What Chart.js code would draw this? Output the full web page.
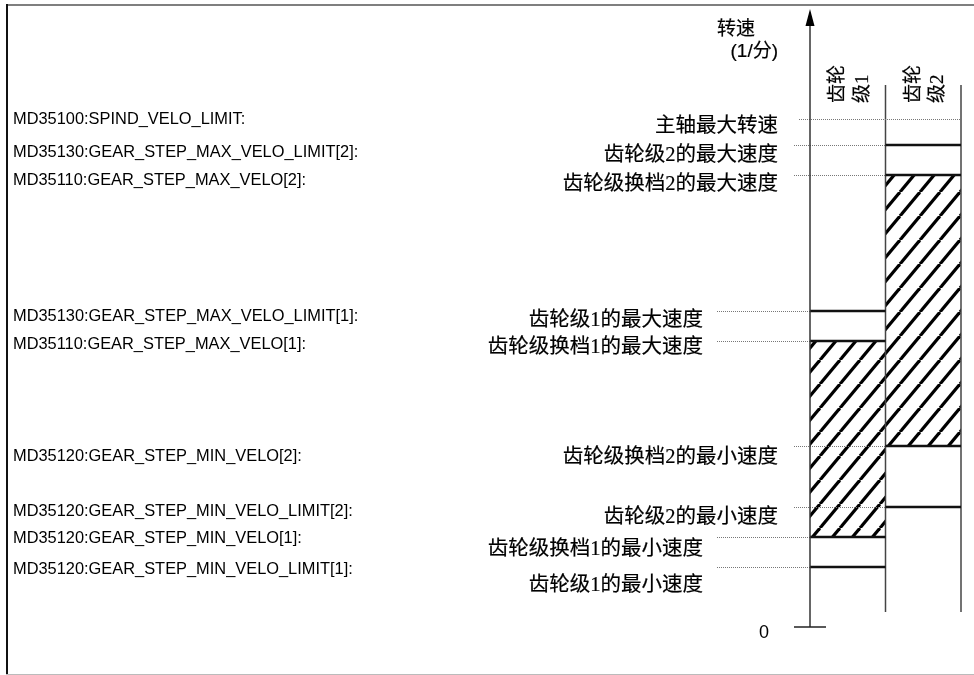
<!DOCTYPE html>
<html>
<head>
<meta charset="utf-8">
<script src="https://cdn.jsdelivr.net/npm/chart.js@4.4.1/dist/chart.umd.min.js"></script>
<style>
html,body{margin:0;padding:0;background:#fff;}
#wrap{width:974px;height:675px;position:relative;}
</style>
</head>
<body>
<div id="wrap"><canvas id="c" width="974" height="675"></canvas></div>
<script>
// ---- data (speed values, 1/min) ----
const gearNames = ['齿轮级1', '齿轮级2'];
const gearShiftMin = [900, 1810];      // MD35120 GEAR_STEP_MIN_VELO[n]
const gearShiftMax = [2860, 4520];     // MD35110 GEAR_STEP_MAX_VELO[n]
const gearLimitMin = [600, 1200];      // MD35120 GEAR_STEP_MIN_VELO_LIMIT[n]
const gearLimitMax = [3160, 4820];     // MD35130 GEAR_STEP_MAX_VELO_LIMIT[n]
const spindleMax = 5080;               // MD35100 SPIND_VELO_LIMIT
const axisMax = 6180;

const paramNames = [
  'MD35100:SPIND_VELO_LIMIT:',
  'MD35130:GEAR_STEP_MAX_VELO_LIMIT[2]:',
  'MD35110:GEAR_STEP_MAX_VELO[2]:',
  'MD35130:GEAR_STEP_MAX_VELO_LIMIT[1]:',
  'MD35110:GEAR_STEP_MAX_VELO[1]:',
  'MD35120:GEAR_STEP_MIN_VELO[2]:',
  'MD35120:GEAR_STEP_MIN_VELO_LIMIT[2]:',
  'MD35120:GEAR_STEP_MIN_VELO[1]:',
  'MD35120:GEAR_STEP_MIN_VELO_LIMIT[1]:'
];
const levelNames = [
  '主轴最大转速',
  '齿轮级2的最大速度',
  '齿轮级换档2的最大速度',
  '齿轮级1的最大速度',
  '齿轮级换档1的最大速度',
  '齿轮级换档2的最小速度',
  '齿轮级2的最小速度',
  '齿轮级换档1的最小速度',
  '齿轮级1的最小速度'
];
const levelValues = [spindleMax, gearLimitMax[1], gearShiftMax[1], gearLimitMax[0], gearShiftMax[0],
                     gearShiftMin[1], gearLimitMin[1], gearShiftMin[0], gearLimitMin[0]];
const levelGear = [0, 2, 2, 1, 1, 2, 2, 1, 1]; // 0 = spindle (both gears)

// ---- layout (pixel offsets of the texts relative to their level line) ----
const nameShift = [8, 11, 10, 10, 7, 12, 11, 13, 19];
const paramShift = [0.5, 7.5, 5.5, 5.5, 3.5, 10.5, 4.5, 1.5, 2.5];

function hatchPattern() {
  const W = 20, H = 24;
  const t = document.createElement('canvas');
  t.width = W; t.height = H;
  const g = t.getContext('2d');
  g.fillStyle = '#fff'; g.fillRect(0, 0, W, H);
  g.strokeStyle = '#000'; g.lineWidth = 3.2;
  for (let k = -1; k <= 1; k++) {
    g.beginPath(); g.moveTo(k * W, H); g.lineTo((k + 1) * W, 0); g.stroke();
  }
  return document.getElementById('c').getContext('2d').createPattern(t, 'repeat');
}

const CJK = '"Liberation Serif", "Noto Sans CJK SC", sans-serif';
const SANS = '"Liberation Sans", Arial, sans-serif';
const SANSCJK = '"Liberation Sans", "Noto Sans CJK SC", sans-serif';

function boldText(ctx, t, x, y) {
  ctx.fillText(t, x, y);
  ctx.lineWidth = 0.2;
  ctx.strokeText(t, x, y);
}

const decor = {
  id: 'decor',
  afterDatasetsDraw(chart) {
    const ctx = chart.ctx;
    const y = chart.scales.y, x = chart.scales.x;
    const half = (x.getPixelForValue(1) - x.getPixelForValue(0)) / 2;
    const colL = i => x.getPixelForValue(i) - half;
    const colR = i => x.getPixelForValue(i) + half;
    const axisX = colL(0);
    const zeroY = y.getPixelForValue(0);
    ctx.save();
    // frame
    ctx.strokeStyle = '#555'; ctx.lineWidth = 1.5;
    ctx.beginPath(); ctx.moveTo(6, 5); ctx.lineTo(974, 5); ctx.stroke();
    ctx.strokeStyle = '#111'; ctx.lineWidth = 2;
    ctx.beginPath(); ctx.moveTo(7, 4); ctx.lineTo(7, 675); ctx.stroke();
    ctx.strokeStyle = '#bbb'; ctx.lineWidth = 1;
    ctx.beginPath(); ctx.moveTo(6, 674.5); ctx.lineTo(974, 674.5); ctx.stroke();

    // column separators
    ctx.strokeStyle = '#444'; ctx.lineWidth = 1.5;
    const colTop = 85, colBot = 612;
    [colR(0), colR(1)].forEach(px => {
      ctx.beginPath(); ctx.moveTo(px, colTop); ctx.lineTo(px, colBot); ctx.stroke();
    });

    // dotted leader lines
    ctx.strokeStyle = '#777'; ctx.lineWidth = 1; ctx.setLineDash([1, 1]);
    levelValues.forEach((v, i) => {
      const py = Math.round(y.getPixelForValue(v)) + 0.5;
      let x0, x1;
      if (levelGear[i] === 0) { x0 = 799; x1 = colR(1); }
      else if (levelGear[i] === 2) { x0 = 794; x1 = colL(1); }
      else { x0 = 717; x1 = colL(0); }
      ctx.beginPath(); ctx.moveTo(x0, py); ctx.lineTo(x1, py); ctx.stroke();
    });
    ctx.setLineDash([]);

    // solid level lines in the gear columns
    ctx.strokeStyle = '#111'; ctx.lineWidth = 2.5;
    gearNames.forEach((g, i) => {
      [gearLimitMin[i], gearShiftMin[i], gearShiftMax[i], gearLimitMax[i]].forEach(v => {
        const py = y.getPixelForValue(v);
        ctx.beginPath(); ctx.moveTo(colL(i), py); ctx.lineTo(colR(i), py); ctx.stroke();
      });
    });

    // axis with arrow
    ctx.strokeStyle = '#333'; ctx.lineWidth = 1.5;
    const topY = y.getPixelForValue(axisMax);
    ctx.beginPath(); ctx.moveTo(axisX, topY + 10); ctx.lineTo(axisX, zeroY); ctx.stroke();
    ctx.fillStyle = '#000';
    ctx.beginPath(); ctx.moveTo(axisX, topY); ctx.lineTo(axisX - 4.5, topY + 17); ctx.lineTo(axisX + 4.5, topY + 17); ctx.closePath(); ctx.fill();
    ctx.strokeStyle = '#222'; ctx.lineWidth = 1.5;
    ctx.beginPath(); ctx.moveTo(axisX - 16, zeroY); ctx.lineTo(axisX + 16, zeroY); ctx.stroke();

    // texts
    ctx.fillStyle = '#000';
    ctx.strokeStyle = '#000';
    ctx.textBaseline = 'middle';
    ctx.font = '18px ' + SANS;
    ctx.textAlign = 'center';
    ctx.fillText('0', 764, zeroY + 6);

    ctx.textAlign = 'left';
    ctx.font = '16.4px ' + SANS;
    paramNames.forEach((t, i) => {
      ctx.fillText(t, 13, y.getPixelForValue(levelValues[i]) + paramShift[i]);
    });

    ctx.textAlign = 'right';
    ctx.font = '20.5px ' + CJK;
    levelNames.forEach((t, i) => {
      const rx = levelGear[i] === 1 ? 703 : 778;
      boldText(ctx, t, rx, y.getPixelForValue(levelValues[i]) + nameShift[i]);
    });

    ctx.font = '19px ' + SANSCJK;
    boldText(ctx, '转速', 755, 30);
    boldText(ctx, '(1/分)', 778, 52);

    // rotated gear labels
    ctx.textAlign = 'left';
    ctx.font = '19px ' + CJK;
    gearNames.forEach((g, i) => {
      const cx = x.getPixelForValue(i);
      const lines = [g.slice(0, 2), g.slice(2)];
      lines.forEach((ln, j) => {
        ctx.save();
        ctx.translate(cx + (j === 0 ? -9.5 : 15), 103);
        ctx.rotate(-Math.PI / 2);
        boldText(ctx, ln, 0, 0);
        ctx.restore();
      });
    });
    ctx.restore();
  }
};

new Chart(document.getElementById('c'), {
  type: 'bar',
  data: {
    labels: gearNames,
    datasets: [{
      data: gearNames.map((g, i) => [gearShiftMin[i], gearShiftMax[i]]),
      backgroundColor: hatchPattern(),
      borderWidth: 0,
      barPercentage: 1,
      categoryPercentage: 1
    }]
  },
  options: {
    responsive: false,
    animation: false,
    devicePixelRatio: 1,
    layout: { padding: { left: 810, right: 13, top: 9, bottom: 48 } },
    plugins: { legend: { display: false }, tooltip: { enabled: false } },
    scales: {
      x: { display: false, offset: true },
      y: { display: false, min: 0, max: axisMax }
    }
  },
  plugins: [decor]
});
</script>
</body>
</html>
